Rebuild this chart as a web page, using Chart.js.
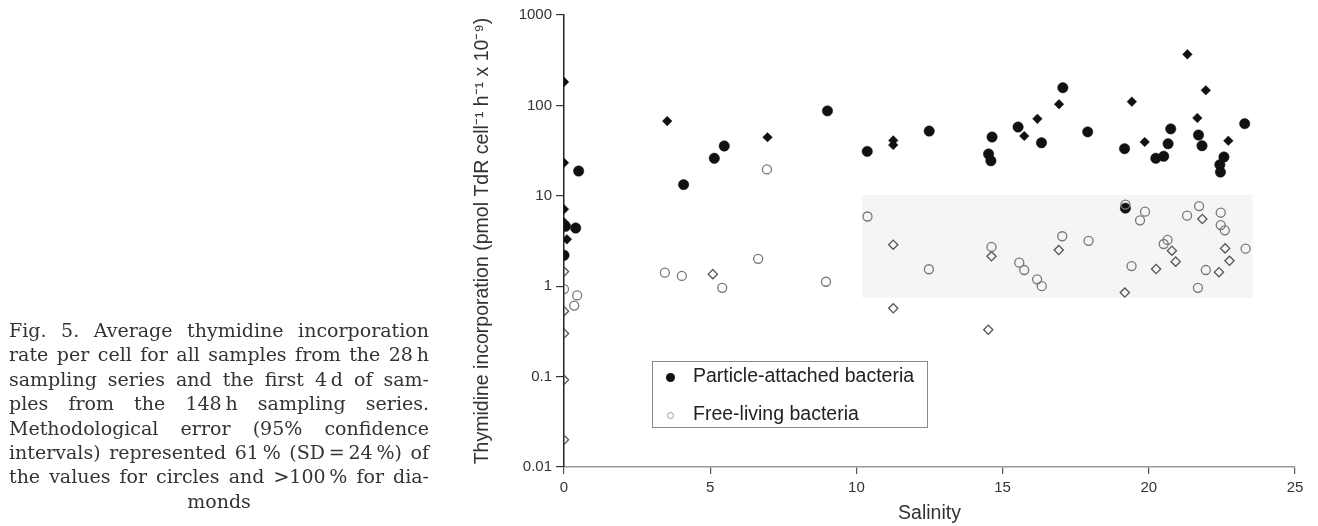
<!DOCTYPE html>
<html>
<head>
<meta charset="utf-8">
<script src="https://cdn.jsdelivr.net/npm/chart.js@4/dist/chart.umd.min.js"></script>
<style>
  html,body{margin:0;padding:0;background:#fff;}
  #wrap{position:relative;width:1318px;height:526px;overflow:hidden;}
  #cv{position:absolute;left:0;top:0;}
  #caption{position:absolute;left:9px;top:318px;width:420px;font-family:"DejaVu Serif",serif;font-size:19px;line-height:24.4px;color:#333;}
  #caption div{text-align:justify;text-align-last:justify;white-space:nowrap;}
  #caption div.last{text-align:center;text-align-last:center;}
  #legend{position:absolute;left:652px;top:361px;width:276px;height:67px;border:1px solid #888;box-sizing:border-box;font-family:"Liberation Sans",Arial,sans-serif;font-size:19.5px;color:#222;}
  .item{position:absolute;left:40px;}
  .sym{position:absolute;border-radius:50%;box-sizing:border-box;}
</style>
</head>
<body>
<div id="wrap">
  <canvas id="cv" width="1318" height="526"></canvas>
  <div id="caption">
    <div>Fig. 5. Average thymidine incorporation</div>
    <div>rate per cell for all samples from the 28&#8201;h</div>
    <div>sampling series and the first 4&#8201;d of sam-</div>
    <div>ples from the 148&#8201;h sampling series.</div>
    <div>Methodological error (95% confidence</div>
    <div>intervals) represented 61&#8201;% (SD&#8201;=&#8201;24&#8201;%) of</div>
    <div>the values for circles and &gt;100&#8201;% for dia-</div>
    <div class="last">monds</div>
  </div>
  <div id="legend">
    <span class="sym" style="left:13px;top:11px;width:9px;height:9px;background:#111;"></span>
    <span class="item" style="top:2px;" id="lg1"></span>
    <span class="sym" style="left:14px;top:50px;width:7px;height:7px;border:1px solid #999;"></span>
    <span class="item" style="top:40px;" id="lg2"></span>
  </div>
</div>
<script>
// salinity vs thymidine incorporation rate (pmol TdR cell-1 h-1 x 10-9)
const legendLabels = ['Particle-attached bacteria', 'Free-living bacteria'];
const xTicks = [0, 5, 10, 15, 20, 25];
const yTicks = [0.01, 0.1, 1, 10, 100, 1000];
const yTickLabels = ['0.01', '0.1', '1', '10', '100', '1000'];

// particle-attached, circles (error ~61%)
const attachedCircles = [
  [0,2.2],[0.05,4.6],[0.4,4.4],[0.5,18.8],[4.09,13.3],[5.14,26],[5.48,35.6],[9.01,87],
  [10.37,31],[12.49,52],[14.52,29],[14.6,24.4],[14.64,44.7],[15.53,57.7],[16.33,38.6],
  [17.06,157],[17.91,51],[19.17,33.2],[19.2,7.3],[20.24,26],[20.51,27.4],[20.66,37.7],
  [20.75,55],[21.7,47],[21.82,35.8],[22.43,22.1],[22.45,18.3],[22.57,26.9],[23.28,62.8]
];
// particle-attached, diamonds (error >100%)
const attachedDiamonds = [
  [0,182],[0,23.2],[0,7.1],[0,5.1],[0.1,3.3],[3.53,67],[6.96,44.4],[11.26,41],[11.26,36.5],
  [15.74,45.9],[16.19,71],[16.93,103],[19.42,110],[19.86,39.4],[21.32,367],[21.66,72.6],
  [21.95,147],[22.72,40.6]
];
// free-living, circles
const freeCircles = [
  [0,0.93],[0.45,0.79],[0.35,0.61],[3.45,1.41],[4.03,1.3],[5.41,0.96],[6.64,2.01],[6.94,19.6],
  [8.96,1.12],[10.38,5.9],[12.48,1.54],[14.62,2.72],[15.57,1.82],[15.74,1.51],[16.18,1.19],
  [16.34,1.0],[17.04,3.57],[17.94,3.18],[19.2,8.0],[19.41,1.67],[19.7,5.36],[19.87,6.67],
  [20.51,2.93],[20.64,3.25],[21.31,6.03],[21.68,0.96],[21.72,7.7],[21.95,1.51],[22.46,6.5],
  [22.46,4.75],[22.6,4.15],[23.31,2.6]
];
// free-living, diamonds
const freeDiamonds = [
  [0,1.45],[0,0.53],[0,0.3],[0,0.092],[0,0.02],[5.09,1.36],[11.26,2.88],[11.26,0.57],
  [14.62,2.14],[14.51,0.33],[16.92,2.51],[19.18,0.85],[20.25,1.55],[20.79,2.47],[20.92,1.87],
  [21.83,5.54],[22.4,1.43],[22.61,2.62],[22.76,1.91]
];

// light grey patch left by the scan
const scanPatch = {x0: 10.2, x1: 23.55, y0: 0.74, y1: 10.2};

document.getElementById('lg1').textContent = legendLabels[0];
document.getElementById('lg2').textContent = legendLabels[1];

const pts = a => a.map(p => ({x: p[0], y: p[1]}));

const patchPlugin = {
  id: 'patch',
  beforeDatasetsDraw(chart){
    const {ctx, scales:{x, y}} = chart;
    ctx.save();
    ctx.fillStyle = '#f5f5f5';
    const l = x.getPixelForValue(scanPatch.x0), r = x.getPixelForValue(scanPatch.x1);
    const t = y.getPixelForValue(scanPatch.y1), b = y.getPixelForValue(scanPatch.y0);
    ctx.fillRect(l, t, r - l, b - t);
    ctx.restore();
  }
};

const sans = '"Liberation Sans", Arial, sans-serif';

new Chart(document.getElementById('cv'), {
  type: 'scatter',
  data: {
    datasets: [
      {label: 'free circles', data: pts(freeCircles), pointStyle: 'circle', pointRadius: 4.5,
       backgroundColor: 'rgba(0,0,0,0)', borderColor: '#777', pointBorderWidth: 1.3},
      {label: 'free diamonds', data: pts(freeDiamonds), pointStyle: 'rectRot', pointRadius: 4.6,
       backgroundColor: 'rgba(0,0,0,0)', borderColor: '#555', pointBorderWidth: 1.3},
      {label: 'attached diamonds', data: pts(attachedDiamonds), pointStyle: 'rectRot', pointRadius: 4.8,
       backgroundColor: '#111', borderColor: '#111', pointBorderWidth: 0.5},
      {label: 'attached circles', data: pts(attachedCircles), pointStyle: 'circle', pointRadius: 5.2,
       backgroundColor: '#111', borderColor: '#111', pointBorderWidth: 0.5}
    ]
  },
  options: {
    responsive: false,
    animation: false,
    layout: {padding: {left: 440, top: 15, right: 23, bottom: 0}},
    plugins: {legend: {display: false}, tooltip: {enabled: false}},
    scales: {
      x: {
        type: 'linear', min: 0, max: 25,
        afterBuildTicks: s => { s.ticks = xTicks.map(v => ({value: v})); },
        afterFit: s => { s.height = 59; },
        border: {display: true, color: '#999', width: 1.5},
        grid: {drawOnChartArea: false, drawTicks: true, tickLength: 7, color: '#555', lineWidth: 1.2},
        ticks: {color: '#333', padding: 5, font: {family: sans, size: 15}},
        title: {display: true, text: 'Salinity', color: '#333', padding: {top: 0, bottom: 1},
                font: {family: sans, size: 19.5}}
      },
      y: {
        type: 'logarithmic', min: 0.01, max: 1000,
        afterBuildTicks: s => { s.ticks = yTicks.map(v => ({value: v})); },
        afterFit: s => { s.width = 124; },
        border: {display: true, color: '#222', width: 1.5},
        grid: {drawOnChartArea: false, drawTicks: true, tickLength: 8, color: '#333', lineWidth: 1.2},
        ticks: {color: '#333', padding: 4, font: {family: sans, size: 15},
                callback: v => { const i = yTicks.indexOf(v); return i >= 0 ? yTickLabels[i] : ''; }},
        title: {display: true, text: 'Thymidine incorporation (pmol TdR cell\u207B\u00B9 h\u207B\u00B9 x 10\u207B\u2079)',
                color: '#333', padding: {top: 31, bottom: 0}, font: {family: sans, size: 19.5}}
      }
    }
  },
  plugins: [patchPlugin]
});
</script>
</body>
</html>
